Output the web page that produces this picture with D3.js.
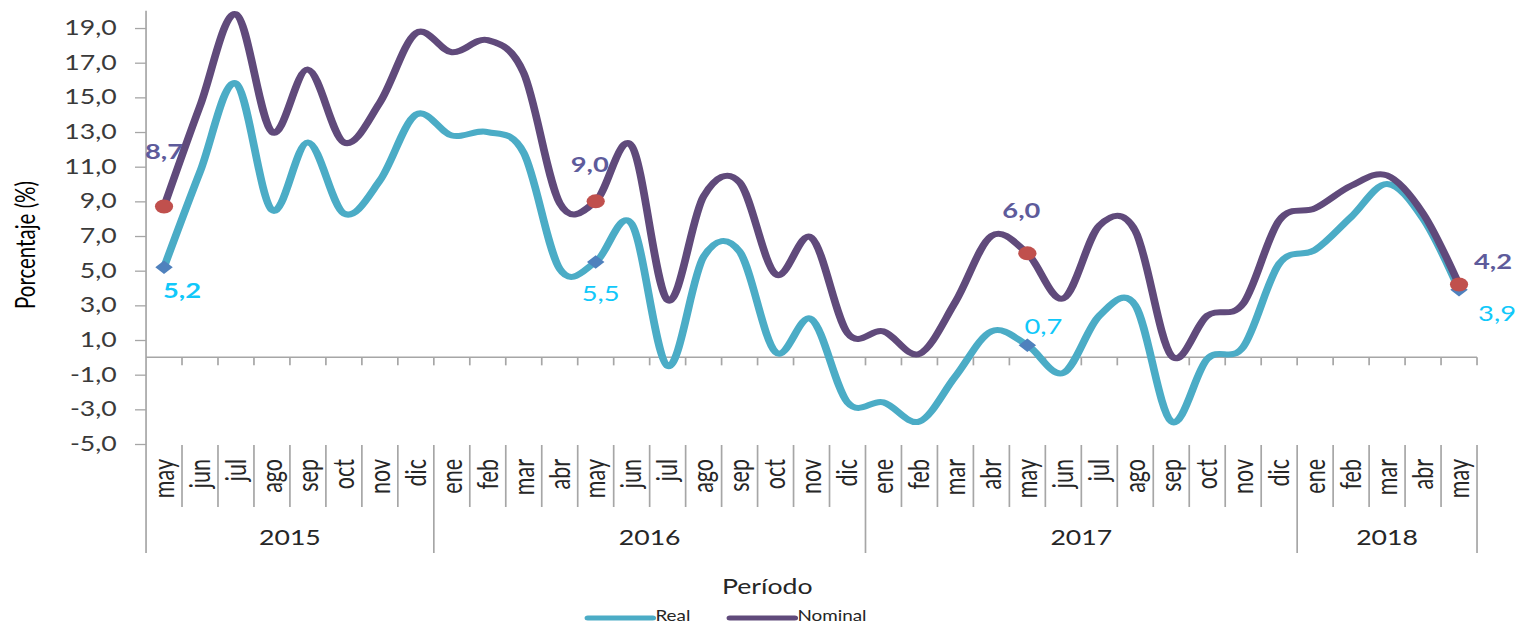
<!DOCTYPE html>
<html>
<head>
<meta charset="utf-8">
<script src="https://cdn.jsdelivr.net/npm/d3@7"></script>
<style>
    body { margin: 0; background: #fff; }
    svg { display: block; }
    text { font-family: Lato, "Open Sans", sans-serif; }
</style>
</head>
<body>
<div id="chart"></div>
<script>
// months shown on the axis (may 2015 .. may 2018)
let months = ["may", "jun", "jul", "ago", "sep", "oct", "nov", "dic",
    "ene", "feb", "mar", "abr", "may", "jun", "jul", "ago", "sep", "oct", "nov", "dic",
    "ene", "feb", "mar", "abr", "may", "jun", "jul", "ago", "sep", "oct", "nov", "dic",
    "ene", "feb", "mar", "abr", "may"];
let years = ["2015", "2016", "2017", "2018"];
let monthsPerYear = [8, 12, 12, 5];

let real = [5.2, 10.7, 15.8, 8.5, 12.4, 8.3, 10.2, 14.0,
    12.8, 13.0, 11.8, 5.1, 5.5, 7.7, -0.5, 5.8, 6.1, 0.3, 2.2, -2.6,
    -2.6, -3.7, -1.1, 1.5, 0.7, -0.9, 2.4, 3.0, -3.7, -0.1, 0.6, 5.4,
    6.2, 8.1, 10.0, 8.0, 3.9];
let nominal = [8.7, 14.5, 19.8, 13.0, 16.6, 12.4, 14.7, 18.7,
    17.6, 18.3, 16.4, 8.9, 9.0, 12.2, 3.3, 9.3, 10.1, 4.8, 6.9, 1.4,
    1.5, 0.2, 3.2, 7.0, 6.0, 3.4, 7.6, 7.3, 0.1, 2.4, 3.1, 7.9,
    8.6, 9.9, 10.5, 8.3, 4.2];

// points that carry a marker and a value label (every May)
let highlighted = [0, 12, 24, 36];
let yTicks = [-5, -3, -1, 1, 3, 5, 7, 9, 11, 13, 15, 17, 19];

// label placement relative to the point (px), and weight
let nominalLabelPos = [[0, -48, true], [-6, -29, true], [-6, -35, true], [34, -16, true]];
let realLabelPos = [[18, 31, true], [5, 39, false], [16, -11, false], [38, 31, false]];

// the original picture is stretched horizontally, so draw in a narrower
// view box and let the svg stretch it
let W = 1528, H = 624, VW = 1175;
let plotLeft = 112.3, plotRight = 1135.8, plotTop = 10.7, plotBottom = 444;
let fmt = v => v.toFixed(1).replace(".", ",");

let svg = d3.select("#chart").append("svg")
    .attr("width", W)
    .attr("height", H)
    .attr("viewBox", `0 0 ${VW} ${H}`)
    .attr("preserveAspectRatio", "none");

let x = d3.scaleBand().domain(d3.range(months.length)).range([plotLeft, plotRight]).padding(0);
let y = d3.scaleLinear().domain([-5, 20]).range([plotBottom, plotTop]);
let cx = i => x(i) + x.bandwidth() / 2;
let gridColor = "#a6a6a6";

// y axis
let yAxis = d3.axisLeft(y).tickValues(yTicks).tickSize(8.5).tickPadding(14).tickFormat(fmt);
let gy = svg.append("g").attr("transform", `translate(${plotLeft},0)`).call(yAxis);
gy.select(".domain").remove();
gy.selectAll(".tick line").attr("stroke", gridColor).attr("stroke-width", 1.3);
gy.selectAll(".tick text")
    .attr("fill", "#3a3a3a")
    .style("font-size", "20.5px")
    .style("font-family", "Lato, sans-serif");

svg.append("line")
    .attr("x1", plotLeft).attr("x2", plotLeft)
    .attr("y1", plotTop).attr("y2", 553)
    .attr("stroke", gridColor).attr("stroke-width", 1.3);

// horizontal axis line at zero with tick marks on the month boundaries
svg.append("line")
    .attr("x1", plotLeft).attr("x2", plotRight)
    .attr("y1", y(0)).attr("y2", y(0))
    .attr("stroke", gridColor).attr("stroke-width", 1.5);

let bounds = d3.range(months.length + 1).map(i => plotLeft + i * x.step());
svg.selectAll(".zero-tick")
    .data(bounds.slice(1))
    .enter()
    .append("line")
    .attr("class", "zero-tick")
    .attr("x1", d => d).attr("x2", d => d)
    .attr("y1", y(0)).attr("y2", y(0) + 8)
    .attr("stroke", gridColor).attr("stroke-width", 1.3);

// category separators below the plot
let yearStarts = d3.cumsum([0].concat(monthsPerYear));
svg.selectAll(".sep")
    .data(bounds.slice(1))
    .enter()
    .append("line")
    .attr("class", "sep")
    .attr("x1", d => d).attr("x2", d => d)
    .attr("y1", plotBottom + 1)
    .attr("y2", (d, i) => yearStarts.includes(i + 1) ? 553 : 507)
    .attr("stroke", gridColor).attr("stroke-width", 1.3);

// month labels
svg.selectAll(".month")
    .data(months)
    .enter()
    .append("text")
    .attr("class", "month")
    .attr("transform", (d, i) => `translate(${cx(i)},459) rotate(-90)`)
    .attr("dy", "0.35em")
    .attr("text-anchor", "end")
    .attr("fill", "#262626")
    .style("font-size", "21.5px")
    .text(d => d);

// year labels
svg.selectAll(".year")
    .data(years)
    .enter()
    .append("text")
    .attr("class", "year")
    .attr("x", (d, i) => (bounds[yearStarts[i]] + bounds[yearStarts[i + 1]]) / 2)
    .attr("y", 545)
    .attr("text-anchor", "middle")
    .attr("fill", "#262626")
    .style("font-size", "20.5px")
    .text(d => d);

// axis titles
svg.append("text")
    .attr("transform", "translate(19.5,245) rotate(-90)")
    .attr("dy", "0.35em")
    .attr("text-anchor", "middle")
    .attr("fill", "#000")
    .style("font-size", "20.5px")
    .text("Porcentaje (%)");

svg.append("text")
    .attr("x", 590)
    .attr("y", 594)
    .attr("text-anchor", "middle")
    .attr("fill", "#262626")
    .style("font-size", "20.5px")
    .text("Período");

// lines
let line = d3.line()
    .x((d, i) => cx(i))
    .y(d => y(d))
    .curve(d3.curveCatmullRom.alpha(0));

let series = [
    { name: "Real", values: real, color: "#4bacc6" },
    { name: "Nominal", values: nominal, color: "#604a7b" }
];

// Real: line + diamonds
svg.append("path")
    .datum(real)
    .attr("fill", "none")
    .attr("stroke", series[0].color)
    .attr("stroke-width", 6)
    .attr("stroke-linejoin", "round")
    .attr("stroke-linecap", "round")
    .attr("d", line);

svg.selectAll(".diamond")
    .data(highlighted)
    .enter()
    .append("path")
    .attr("class", "diamond")
    .attr("d", d3.symbol(d3.symbolSquare, 90))
    .attr("transform", i => `translate(${cx(i)},${y(real[i])}) rotate(45)`)
    .attr("fill", "#4f81bd");

// Nominal: line + circles
svg.append("path")
    .datum(nominal)
    .attr("fill", "none")
    .attr("stroke", series[1].color)
    .attr("stroke-width", 6)
    .attr("stroke-linejoin", "round")
    .attr("stroke-linecap", "round")
    .attr("d", line);

svg.selectAll(".dot")
    .data(highlighted)
    .enter()
    .append("circle")
    .attr("class", "dot")
    .attr("cx", i => cx(i))
    .attr("cy", i => y(nominal[i]))
    .attr("r", 7)
    .attr("fill", "#c0504d");

// value labels
svg.selectAll(".nominal-label")
    .data(highlighted)
    .enter()
    .append("text")
    .attr("class", "nominal-label")
    .attr("x", (i, k) => cx(i) + nominalLabelPos[k][0] / 1.3)
    .attr("y", (i, k) => y(nominal[i]) + nominalLabelPos[k][1])
    .attr("text-anchor", "middle")
    .attr("fill", "#5e5b9b")
    .style("font-size", "21px")
    .style("font-weight", (i, k) => nominalLabelPos[k][2] ? "bold" : "normal")
    .text(i => fmt(nominal[i]));

svg.selectAll(".real-label")
    .data(highlighted)
    .enter()
    .append("text")
    .attr("class", "real-label")
    .attr("x", (i, k) => cx(i) + realLabelPos[k][0] / 1.3)
    .attr("y", (i, k) => y(real[i]) + realLabelPos[k][1])
    .attr("text-anchor", "middle")
    .attr("fill", "#10c8fa")
    .style("font-size", "21px")
    .style("font-weight", (i, k) => realLabelPos[k][2] ? "bold" : "normal")
    .text(i => fmt(real[i]));

// legend
let legend = svg.append("g").attr("transform", "translate(452,618)");
let legendX = [0, 109.2];
series.forEach(function (s, k) {
    legend.append("line")
        .attr("x1", legendX[k]).attr("x2", legendX[k] + 50)
        .attr("y1", 0).attr("y2", 0)
        .attr("stroke", s.color)
        .attr("stroke-width", 5)
        .attr("stroke-linecap", "round");
    legend.append("text")
        .attr("x", legendX[k] + 52)
        .attr("y", 3)
        .attr("fill", "#262626")
        .style("font-size", "14.5px")
        .text(s.name);
});
</script>
</body>
</html>
